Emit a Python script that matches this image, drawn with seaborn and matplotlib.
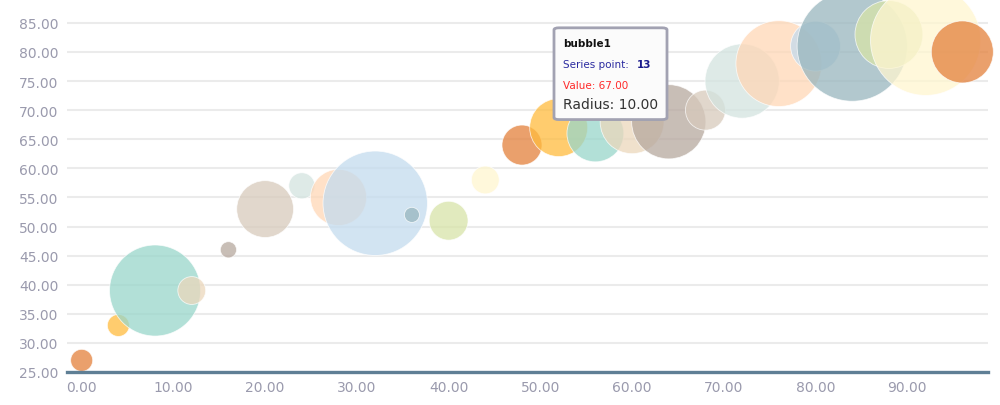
import numpy as np
import pandas as pd
import seaborn as sns
import matplotlib.pyplot as plt
from matplotlib.patches import FancyBboxPatch

# bubble data
x_vals = [0, 4, 8, 12, 16, 20, 24, 28, 32, 36, 40, 44, 48,
          52, 56, 60, 64, 68, 72, 76, 80, 84, 88, 92, 96]
y_vals = [27, 33, 39, 39, 46, 53, 57, 55, 54, 52, 51, 58, 64,
          67, 66, 68, 68, 70, 75, 78, 81, 81, 83, 82, 80]
radius = [3.8, 3.8, 15.7, 4.8, 2.8, 9.8, 4.5, 9.7, 18.0, 2.6, 6.7, 4.8, 6.9,
          10.0, 9.8, 11.0, 12.8, 6.9, 12.8, 14.8, 8.6, 19.0, 11.7, 19.0, 10.7]

base_colors = ['#E3803B', '#FFBC3E', '#98D6CA', '#EBD7BC', '#B6A89E', '#D7CABC',
               '#D3E4E0', '#FFD7B6', '#C3DBEE', '#98B6BE', '#D7E4A8', '#FFF6D0']

df = pd.DataFrame({'x': x_vals, 'y': y_vals, 'radius': radius})
df['point'] = np.arange(len(df))
palette = [base_colors[i % len(base_colors)] for i in df['point']]

# radius unit -> pixel -> marker area in pt^2
px_per_unit = 2.9
df['area'] = (2 * df['radius'] * px_per_unit * 0.72) ** 2
amin, amax = df['area'].min(), df['area'].max()

sns.set_style('white')
plt.rcParams['font.family'] = ['DejaVu Sans']

fig = plt.figure(figsize=(10, 4.06), dpi=100)
ax = fig.add_axes([0.067, 0.0813, 0.921, 0.9187])

sns.scatterplot(data=df, x='x', y='y', hue='point', palette=palette,
                size='area', sizes=(amin, amax), size_norm=(amin, amax),
                alpha=0.75, edgecolor='white', linewidth=0.6,
                legend=False, ax=ax, clip_on=False, zorder=3)

ax.set_xlim(-1.6, 98.8)
ax.set_ylim(25, 89.1)
ax.set_xticks(np.arange(0, 100, 10))
ax.set_yticks(np.arange(25, 90, 5))
ax.set_xticklabels([f'{v:.2f}' for v in np.arange(0, 100, 10)])
ax.set_yticklabels([f'{v:.2f}' for v in np.arange(25, 90, 5)])
ax.yaxis.grid(True, color='#ebebeb', linewidth=1.5)
ax.set_axisbelow(True)
for s in ['top', 'right', 'left']:
    ax.spines[s].set_visible(False)
ax.spines['bottom'].set_color('#5f7f95')
ax.spines['bottom'].set_linewidth(2.4)
ax.spines['bottom'].set_zorder(4)
ax.tick_params(axis='both', colors='#9a9aad', labelsize=10, length=3, width=1.2, pad=3)
ax.tick_params(axis='both', color='#6a6a7a')
ax.set_xlabel('')
ax.set_ylabel('')

# tooltip box for point 13
box = FancyBboxPatch((0.554, 0.703), 0.113, 0.226, transform=fig.transFigure,
                     boxstyle='round,pad=0,rounding_size=0.005',
                     facecolor='#fbfbfb', edgecolor='#a2a2b2', linewidth=2.0,
                     zorder=10)
fig.patches.append(box)
fig.text(0.563, 1 - 44 / 406, 'bubble1', fontsize=7.5, fontweight='bold',
         color='#111111', va='center', zorder=11)
fig.text(0.563, 1 - 65 / 406, 'Series point: ', fontsize=7.5,
         color='#2b2ba0', va='center', zorder=11)
fig.text(0.637, 1 - 65 / 406, '13', fontsize=7.5, fontweight='bold',
         color='#1a1a8c', va='center', zorder=11)
fig.text(0.563, 1 - 86 / 406, 'Value: 67.00', fontsize=7.5,
         color='#ff2a2a', va='center', zorder=11)
fig.text(0.563, 1 - 105 / 406, 'Radius: 10.00', fontsize=10,
         color='#333333', va='center', zorder=11)

fig.savefig('out.png', dpi=100)
